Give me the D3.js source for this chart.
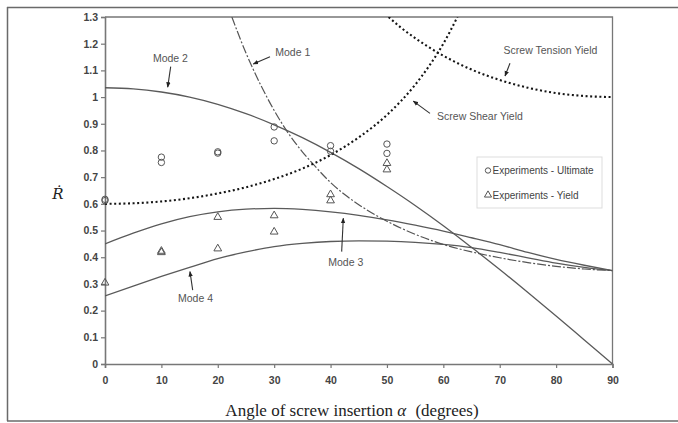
<!DOCTYPE html>
<html>
<head>
<meta charset="utf-8">
<script src="https://cdn.jsdelivr.net/npm/d3@7"></script>
<style>
  html, body { margin: 0; padding: 0; background: #fff; }
  svg { display: block; }
  .tick text { font-family: Arial, "Liberation Sans", sans-serif; font-weight: bold; fill: #444; }
</style>
</head>
<body>
<svg id="chart" width="678" height="423"></svg>
<script>
// Angle of screw insertion (degrees) and normalised capacity curves
const anglesFull = [0, 5, 10, 15, 20, 25, 30, 35, 40, 45, 50, 55, 60, 65, 70, 75, 80, 85, 90];

const mode2 = [1.035, 1.031, 1.019, 1.000, 0.973, 0.938, 0.896, 0.848, 0.793, 0.732, 0.665, 0.594, 0.518, 0.437, 0.354, 0.268, 0.180, 0.090, 0.000];
const mode3 = [0.450, 0.490, 0.525, 0.552, 0.570, 0.580, 0.583, 0.579, 0.570, 0.557, 0.540, 0.520, 0.498, 0.473, 0.447, 0.418, 0.392, 0.370, 0.350];
const mode4 = [0.255, 0.292, 0.328, 0.362, 0.395, 0.420, 0.440, 0.452, 0.459, 0.461, 0.460, 0.456, 0.448, 0.436, 0.418, 0.398, 0.378, 0.362, 0.350];

const mode1Angles = [22.5, 25, 27.5, 30, 32.5, 35, 37.5, 40, 42.5, 45, 50, 55, 60, 65, 70, 75, 80, 85, 90];
const mode1 = [1.300, 1.165, 1.050, 0.950, 0.865, 0.795, 0.735, 0.680, 0.635, 0.597, 0.535, 0.486, 0.448, 0.420, 0.398, 0.380, 0.366, 0.356, 0.350];

const shearAngles = [0, 5, 10, 15, 20, 25, 30, 35, 40, 45, 50, 55, 57.5, 60, 62.5];
const shearYield = [0.600, 0.602, 0.609, 0.621, 0.639, 0.662, 0.693, 0.732, 0.783, 0.849, 0.933, 1.046, 1.117, 1.200, 1.300];

const tensionAngles = [50.3, 52.5, 55, 57.5, 60, 65, 70, 75, 80, 85, 90];
const tensionYield = [1.300, 1.260, 1.221, 1.186, 1.155, 1.103, 1.064, 1.035, 1.015, 1.004, 1.000];

// Test results
const ultimateAngles = [0, 0, 10, 10, 20, 20, 30, 30, 40, 40, 50, 50];
const ultimateValues = [0.617, 0.612, 0.775, 0.755, 0.795, 0.790, 0.888, 0.836, 0.818, 0.797, 0.824, 0.789];
const yieldAngles = [0, 10, 10, 20, 20, 30, 30, 40, 40, 50, 50];
const yieldValues = [0.306, 0.425, 0.420, 0.552, 0.434, 0.558, 0.497, 0.637, 0.614, 0.754, 0.730];

const xTicks = [0, 10, 20, 30, 40, 50, 60, 70, 80, 90];
const yTicks = [0, 0.1, 0.2, 0.3, 0.4, 0.5, 0.6, 0.7, 0.8, 0.9, 1.0, 1.1, 1.2, 1.3];

// Curve labels: text anchor and arrow (tail -> head) in data units
const labelNames = ["Mode 2", "Mode 1", "Screw Tension Yield", "Screw Shear Yield", "Mode 3", "Mode 4"];
const labelPos = [[11.6, 1.146], [33.3, 1.169], [79.0, 1.174], [66.5, 0.929], [42.7, 0.380], [16.05, 0.247]];
const arrowTail = [[11.65, 1.114], [29.26, 1.151], [71.82, 1.127], [57.63, 0.939], [41.97, 0.421], [15.55, 0.277]];
const arrowHead = [[11.12, 1.037], [26.3, 1.124], [70.94, 1.079], [54.67, 0.985], [42.26, 0.546], [15.07, 0.346]];

const legendLabels = ["Experiments - Ultimate", "Experiments - Yield"];

// ---------------------------------------------------------------
const svg = d3.select("#chart");
const W = 678, H = 423;
const plot = { left: 105, right: 612.5, top: 17, bottom: 364 };

const x = d3.scaleLinear().domain([0, 90]).range([plot.left, plot.right]);
const y = d3.scaleLinear().domain([0, 1.3]).range([plot.bottom, plot.top]);

// outer figure frame
const frame = svg.append("g").attr("stroke", "#6a6a6a").attr("stroke-width", 1.5).attr("fill", "none");
frame.append("line").attr("x1", 7).attr("x2", W).attr("y1", 7.5).attr("y2", 7.5);
frame.append("line").attr("x1", 7).attr("x2", W).attr("y1", 421).attr("y2", 421);
frame.append("line").attr("x1", 7.5).attr("x2", 7.5).attr("y1", 7).attr("y2", 421);

svg.append("defs").append("clipPath").attr("id", "plotClip")
  .append("rect").attr("x", plot.left).attr("y", plot.top)
  .attr("width", plot.right - plot.left).attr("height", plot.bottom - plot.top);

svg.select("defs").append("marker")
  .attr("id", "arrow").attr("viewBox", "0 0 10 10").attr("refX", 9).attr("refY", 5)
  .attr("markerWidth", 5).attr("markerHeight", 5).attr("orient", "auto-start-reverse")
  .append("path").attr("d", "M0,1 L10,5 L0,9 Z").attr("fill", "#222");

// plot frame (top and right edges)
svg.append("path")
  .attr("d", `M${plot.left},${plot.top} H${plot.right} V${plot.bottom}`)
  .attr("fill", "none").attr("stroke", "#777").attr("stroke-width", 1.3);

// axes
const xAxis = svg.append("g").attr("transform", `translate(0,${plot.bottom})`)
  .call(d3.axisBottom(x).tickValues(xTicks).tickSize(4).tickPadding(9).tickFormat(d3.format("d")));
const yAxis = svg.append("g").attr("transform", `translate(${plot.left},0)`)
  .call(d3.axisLeft(y).tickValues(yTicks).tickSize(4).tickPadding(3).tickFormat(d => d3.format("")(+d.toFixed(1))));
[xAxis, yAxis].forEach(a => {
  a.select(".domain").attr("stroke", "#777").attr("stroke-width", 1.6);
  a.selectAll(".tick line").attr("stroke", "#777").attr("stroke-width", 1.2);
  a.selectAll(".tick text").attr("font-size", 10.5);
});

// curves
const g = svg.append("g").attr("clip-path", "url(#plotClip)");
const line = d3.line().curve(d3.curveMonotoneX).x(d => x(d[0])).y(d => y(d[1]));
const pairs = (xs, ys) => xs.map((a, i) => [a, ys[i]]);

const solid = { stroke: "#5a5a5a", width: 1.3, dash: null };
const curves = [
  { data: pairs(anglesFull, mode2), ...solid },
  { data: pairs(anglesFull, mode3), ...solid },
  { data: pairs(anglesFull, mode4), ...solid },
  { data: pairs(mode1Angles, mode1), stroke: "#555", width: 1.2, dash: "9 2 2 2" },
  { data: pairs(shearAngles, shearYield), stroke: "#151515", width: 2.1, dash: "2 2.6" },
  { data: pairs(tensionAngles, tensionYield), stroke: "#151515", width: 2.1, dash: "2 2.6" }
];
g.selectAll("path.curve").data(curves).join("path")
  .attr("class", "curve")
  .attr("d", d => line(d.data))
  .attr("fill", "none")
  .attr("stroke", d => d.stroke)
  .attr("stroke-width", d => d.width)
  .attr("stroke-dasharray", d => d.dash);

// experimental points
const pts = svg.append("g").attr("fill", "none").attr("stroke", "#555").attr("stroke-width", 1);
pts.selectAll("circle").data(pairs(ultimateAngles, ultimateValues)).join("circle")
  .attr("cx", d => x(d[0])).attr("cy", d => y(d[1])).attr("r", 3.2);
const tri = d3.symbol().type(d3.symbolTriangle).size(26);
pts.selectAll("path").data(pairs(yieldAngles, yieldValues)).join("path")
  .attr("d", tri).attr("transform", d => `translate(${x(d[0])},${y(d[1]) + 0.5})`);

// curve labels with arrows
const ann = svg.append("g");
ann.selectAll("line").data(labelNames).join("line")
  .attr("x1", (d, i) => x(arrowTail[i][0])).attr("y1", (d, i) => y(arrowTail[i][1]))
  .attr("x2", (d, i) => x(arrowHead[i][0])).attr("y2", (d, i) => y(arrowHead[i][1]))
  .attr("stroke", "#333").attr("stroke-width", 1.1).attr("marker-end", "url(#arrow)");
ann.selectAll("text").data(labelNames).join("text")
  .attr("x", (d, i) => x(labelPos[i][0])).attr("y", (d, i) => y(labelPos[i][1]))
  .attr("dy", "0.35em").attr("text-anchor", "middle")
  .attr("font-family", "Arial, 'Liberation Sans', sans-serif").attr("font-size", 10.5)
  .attr("fill", "#555").text(d => d);

// legend
const lg = svg.append("g").attr("transform", "translate(477,157)");
lg.append("rect").attr("width", 125).attr("height", 51)
  .attr("fill", "#fff").attr("stroke", "#ddd").attr("stroke-width", 1);
lg.append("circle").attr("cx", 11).attr("cy", 13.5).attr("r", 2.7)
  .attr("fill", "none").attr("stroke", "#555");
lg.append("path").attr("d", d3.symbol().type(d3.symbolTriangle).size(22))
  .attr("transform", "translate(11,38)").attr("fill", "none").attr("stroke", "#555");
lg.selectAll("text").data(legendLabels).join("text")
  .attr("x", 15.5).attr("y", (d, i) => 13.5 + i * 24.5).attr("dy", "0.35em")
  .attr("font-family", "Arial, 'Liberation Sans', sans-serif").attr("font-size", 10)
  .attr("fill", "#444").text(d => d);

// axis titles
const xt = svg.append("text").attr("x", 352).attr("y", 416).attr("text-anchor", "middle")
  .attr("font-family", "'Liberation Serif', 'Times New Roman', serif").attr("font-size", 17).attr("fill", "#222");
xt.append("tspan").text("Angle of screw insertion ");
xt.append("tspan").attr("font-style", "italic").text("α");
xt.append("tspan").attr("dx", 5).text(" (degrees)");

svg.append("text").attr("x", 58).attr("y", 199).attr("text-anchor", "middle")
  .attr("font-family", "'DejaVu Serif', 'Liberation Serif', serif").attr("font-style", "italic")
  .attr("font-size", 15).attr("fill", "#222").text("Ṙ");
</script>
</body>
</html>
